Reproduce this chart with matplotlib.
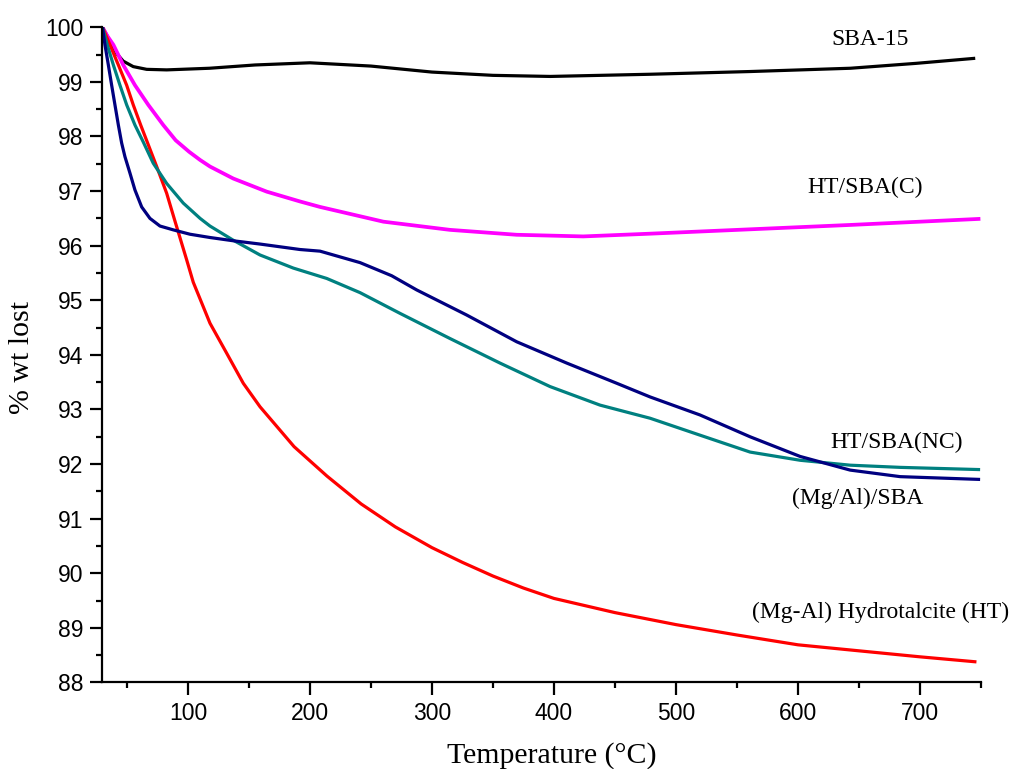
import matplotlib
matplotlib.use("Agg")
import matplotlib.pyplot as plt
from matplotlib.ticker import MultipleLocator

# ---- data ----
sba_T = [30, 33.4, 36.1, 41.6, 47.0, 55.2, 66.2, 82.6, 117.7, 155, 200, 250, 300, 350, 397, 479, 561, 643, 697, 744]
sba_w = [100, 99.86, 99.74, 99.52, 99.38, 99.28, 99.23, 99.22, 99.25, 99.31, 99.35, 99.29, 99.18, 99.12, 99.10,
         99.14, 99.19, 99.25, 99.34, 99.43]

htc_T = [30, 34, 38.9, 47.0, 56.6, 67.5, 79.8, 90, 101, 110, 118.1, 137.2, 164.6, 191.9, 208.3, 260.2, 314.8,
         369.5, 424, 478.8, 560.8, 642.8, 748]
htc_w = [100, 99.84, 99.68, 99.31, 98.94, 98.58, 98.21, 97.93, 97.72, 97.57, 97.45, 97.23, 96.99, 96.81, 96.71,
         96.44, 96.29, 96.20, 96.17, 96.22, 96.30, 96.38, 96.49]

htnc_T = [30, 32, 34.8, 37.5, 40.2, 43, 45.7, 48.4, 52.5, 56.6, 62.1, 68.9, 77.1, 88, 101.7, 118.1, 137.2, 159.1,
          191.9, 208.3, 219.2, 241.1, 267, 287.5, 328.5, 369.5, 410.5, 451.5, 478.8, 519.7, 560.8, 601.8, 642.8,
          683.8, 748]
htnc_w = [100, 99.68, 99.31, 98.94, 98.58, 98.21, 97.88, 97.63, 97.33, 97.02, 96.71, 96.50, 96.36, 96.29, 96.21,
          96.15, 96.09, 96.03, 95.93, 95.90, 95.83, 95.69, 95.45, 95.19, 94.73, 94.24, 93.85, 93.48, 93.23, 92.90,
          92.50, 92.14, 91.89, 91.77, 91.72]

mgal_T = [30, 33.9, 38.9, 44.3, 49.8, 56.6, 63.4, 71.6, 82.6, 96.2, 110, 118.1, 137.2, 159.1, 186.4, 213.8,
          241.1, 273.9, 314.8, 355.8, 396.8, 437.8, 478.8, 519.7, 560.8, 601.8, 642.8, 683.8, 748]
mgal_w = [100, 99.68, 99.31, 98.94, 98.58, 98.21, 97.90, 97.51, 97.14, 96.78, 96.50, 96.36, 96.10, 95.83, 95.59,
          95.40, 95.14, 94.76, 94.30, 93.85, 93.42, 93.08, 92.84, 92.53, 92.22, 92.07, 91.98, 91.94, 91.90]

ht_T = [30, 36.1, 43, 49.8, 55.2, 61.3, 67, 74.4, 82.6, 89.4, 99, 104.4, 118.1, 131.8, 145.4, 159.1, 187,
        214, 242, 270, 300, 325, 350, 375, 400, 450, 500, 550, 600, 650, 700, 745]
ht_w = [100, 99.68, 99.31, 98.94, 98.58, 98.21, 97.88, 97.45, 96.96, 96.45, 95.74, 95.33, 94.58, 94.03, 93.48,
        93.05, 92.32, 91.78, 91.27, 90.85, 90.47, 90.20, 89.95, 89.73, 89.54, 89.28, 89.06, 88.87, 88.69, 88.58,
        88.47, 88.38]

labels = ["SBA-15", "HT/SBA(C)", "HT/SBA(NC)", "(Mg/Al)/SBA", "(Mg-Al) Hydrotalcite (HT)"]
label_T = [659, 655, 681, 649, 668]
label_w = [99.77, 97.06, 92.39, 91.38, 89.29]

x_ticks = [100, 200, 300, 400, 500, 600, 700]
y_ticks = [88, 89, 90, 91, 92, 93, 94, 95, 96, 97, 98, 99, 100]

# ---- figure ----
fig = plt.figure(figsize=(10.26, 7.69), dpi=100)
ax = fig.add_axes([0.0999, 0.1125, 0.8562, 0.852])

lw = 2.3
ax.plot(sba_T, sba_w, color="black", lw=lw)
ax.plot(htc_T, htc_w, color="#FF00FF", lw=2.7)
ax.plot(ht_T, ht_w, color="#FF0000", lw=lw)
ax.plot(mgal_T, mgal_w, color="#008080", lw=lw)
ax.plot(htnc_T, htnc_w, color="#000080", lw=lw)

ax.set_xlim(30, 750)
ax.set_ylim(88, 100)
ax.set_xticks(x_ticks)
ax.set_yticks(y_ticks)
ax.xaxis.set_minor_locator(MultipleLocator(50))
ax.yaxis.set_minor_locator(MultipleLocator(0.5))

for s in ["top", "right"]:
    ax.spines[s].set_visible(False)
for s in ["left", "bottom"]:
    ax.spines[s].set_linewidth(1.6)

ax.tick_params(axis="both", which="major", direction="out", length=9, width=1.6,
               labelsize=16.5, pad=5)
ax.tick_params(axis="both", which="minor", direction="out", length=4.5, width=1.6)
for t in ax.get_xticklabels() + ax.get_yticklabels():
    t.set_fontfamily("Liberation Sans")

for txt, tx, ty in zip(labels, label_T, label_w):
    ax.text(tx, ty, txt, ha="center", va="center", fontsize=17,
            family="Liberation Serif", clip_on=False)

fig.text(552 / 1026, 1 - 763 / 769, "Temperature (\u00b0C)", ha="center", va="baseline",
         fontsize=21.5, family="Liberation Serif")
fig.text(22 / 1026, 1 - 357 / 769, "% wt lost", ha="center", va="center", rotation=90,
         fontsize=21.5, family="Liberation Serif")

fig.savefig("out.png", dpi=100)
